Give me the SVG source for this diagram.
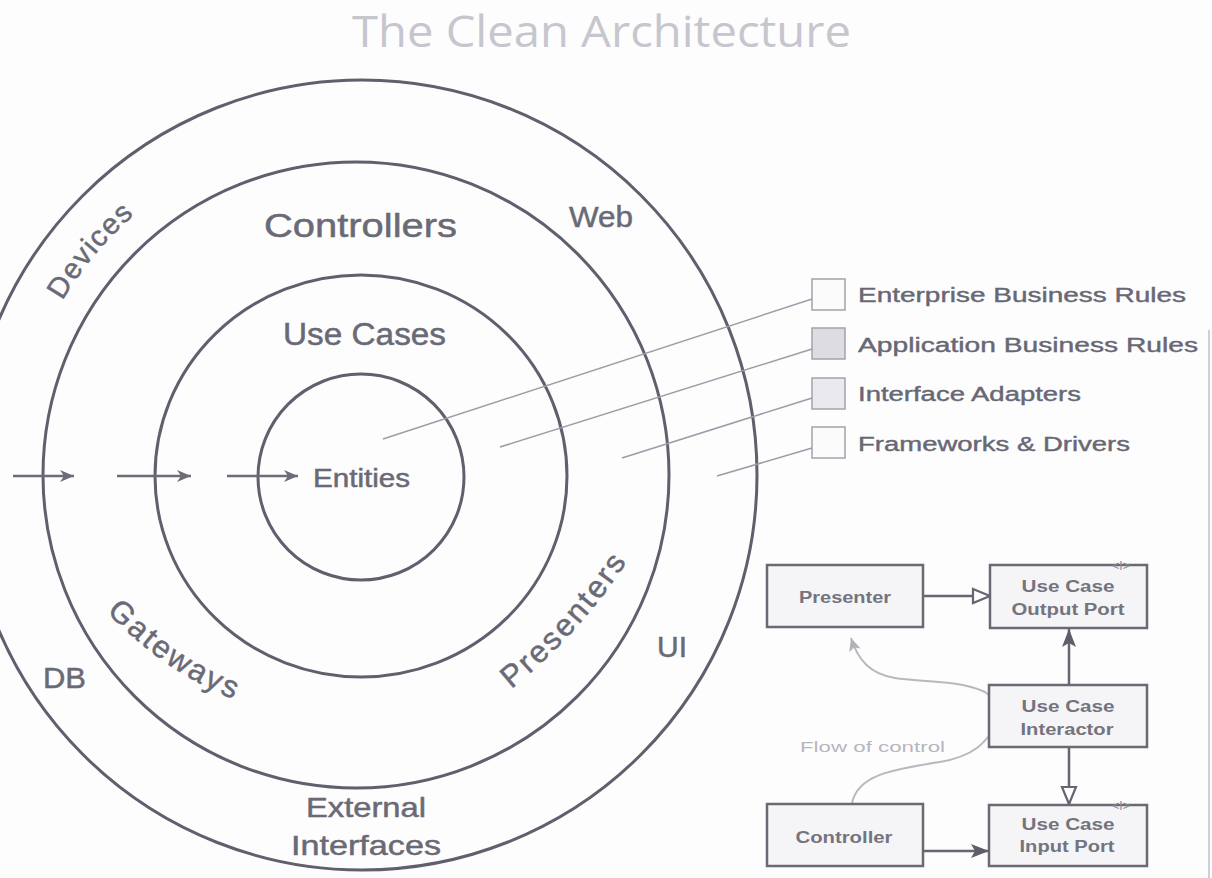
<svg xmlns="http://www.w3.org/2000/svg" width="1212" height="878" viewBox="0 0 1212 878">
<style>
.ring{fill:none;stroke:#5f5f6d;stroke-width:3}
.lbl{font-family:"Liberation Sans",Arial,sans-serif;fill:#6a6a76;stroke:#6a6a76;stroke-width:0.5}
.leg{font-family:"Liberation Sans",Arial,sans-serif;fill:#686874;stroke:#686874;stroke-width:0.4;font-size:20px}
.lead{fill:none;stroke:#9c9ca8;stroke-width:1.5}
.lbox{stroke:#a2a2ac;stroke-width:1.5}
.uml{fill:#f5f5f7;stroke:#6a6a76;stroke-width:2.5}
.umlt{font-family:"Liberation Sans",Arial,sans-serif;font-weight:bold;font-size:16px;fill:#74747e;text-anchor:middle}
.conn{fill:none;stroke:#666672;stroke-width:2.5}
.arr{fill:none;stroke:#6c6c78;stroke-width:2.5}
.mark{font-family:"Liberation Sans",Arial,sans-serif;font-size:12px;fill:#8a8a94;text-anchor:middle}
</style>
<defs>
<marker id="ah" markerUnits="userSpaceOnUse" markerWidth="16" markerHeight="14" refX="15" refY="7" orient="auto">
<path d="M1,1 L15,7 L1,13 L5,7 z" fill="#6c6c78"/>
</marker>
<marker id="hollow" markerUnits="userSpaceOnUse" markerWidth="22" markerHeight="18" refX="19" refY="9" orient="auto">
<path d="M2,2 L19,9 L2,16 z" fill="#ffffff" stroke="#666672" stroke-width="2.2"/>
</marker>
<marker id="filled" markerUnits="userSpaceOnUse" markerWidth="22" markerHeight="18" refX="19" refY="9" orient="auto">
<path d="M1,2 L19,9 L1,16 L5,9 z" fill="#5e5e6a"/>
</marker>
<marker id="flow" markerUnits="userSpaceOnUse" markerWidth="16" markerHeight="14" refX="14" refY="7" orient="auto">
<path d="M1,1 L14,7 L1,13 L4,7 z" fill="#b2b2bc"/>
</marker>
<path id="pDevices" d="M20.2 415.4 A343 343 0 0 1 240.7 152.7"/>
<path id="pGateways" d="M100 605 Q165.5 676 245 703"/>
<path id="pPresenters" d="M500 698 Q580 637 636 548"/>
</defs>
<rect x="0" y="0" width="1212" height="878" fill="#fdfdfd"/>
<line x1="1209" y1="330" x2="1209" y2="878" stroke="#cfcfd6" stroke-width="2"/>

<text x="352" y="47" font-family="'Open Sans','Liberation Sans',sans-serif" font-size="43" fill="#c6c6ce" textLength="499" lengthAdjust="spacingAndGlyphs">The Clean Architecture</text>

<g id="frameworks-drivers">
<circle class="ring" cx="362" cy="475" r="395"/>
<text class="lbl" font-size="29" letter-spacing="1.5"><textPath href="#pDevices" startOffset="50%" text-anchor="middle">Devices</textPath></text>
<text class="lbl" x="569" y="227" font-size="29" textLength="64" lengthAdjust="spacingAndGlyphs">Web</text>
<text class="lbl" x="657" y="657" font-size="30">UI</text>
<text class="lbl" x="43" y="688" font-size="29" textLength="43" lengthAdjust="spacingAndGlyphs">DB</text>
<text class="lbl" x="306" y="817" font-size="28" textLength="120" lengthAdjust="spacingAndGlyphs">External</text>
<text class="lbl" x="291" y="855" font-size="28" textLength="150" lengthAdjust="spacingAndGlyphs">Interfaces</text>
</g>

<g id="interface-adapters">
<circle class="ring" cx="356" cy="475" r="313"/>
<text class="lbl" x="264" y="237" font-size="34" textLength="193" lengthAdjust="spacingAndGlyphs">Controllers</text>
<text class="lbl" font-size="31" letter-spacing="2.5"><textPath href="#pGateways" startOffset="50%" text-anchor="middle">Gateways</textPath></text>
<text class="lbl" font-size="31" letter-spacing="2.5"><textPath href="#pPresenters" startOffset="50%" text-anchor="middle">Presenters</textPath></text>
</g>

<g id="use-cases">
<ellipse class="ring" cx="361" cy="476" rx="206" ry="201"/>
<text class="lbl" x="283" y="345" font-size="31" textLength="163" lengthAdjust="spacingAndGlyphs">Use Cases</text>
</g>

<g id="entities">
<circle class="ring" cx="361" cy="477" r="103"/>
<text class="lbl" x="313" y="487" font-size="25" stroke-width="0.2" textLength="97" lengthAdjust="spacingAndGlyphs">Entities</text>
</g>

<g id="legend">
<g id="legend-enterprise">
<rect class="lbox" x="812" y="279" width="33" height="31" fill="#fbfbfc"/>
<text class="leg" x="858" y="302" textLength="328" lengthAdjust="spacingAndGlyphs">Enterprise Business Rules</text>
</g>
<g id="legend-application">
<rect class="lbox" x="812" y="328" width="33" height="31" fill="#dcdce1"/>
<text class="leg" x="858" y="352" textLength="340" lengthAdjust="spacingAndGlyphs">Application Business Rules</text>
</g>
<g id="legend-adapters">
<rect class="lbox" x="812" y="378" width="33" height="31" fill="#eaeaee"/>
<text class="leg" x="858" y="401" textLength="223" lengthAdjust="spacingAndGlyphs">Interface Adapters</text>
</g>
<g id="legend-frameworks">
<rect class="lbox" x="812" y="427" width="33" height="31" fill="#fbfbfc"/>
<text class="leg" x="858" y="451" textLength="272" lengthAdjust="spacingAndGlyphs">Frameworks &amp; Drivers</text>
</g>
</g>

<g id="connectors">
<line class="arr" x1="13" y1="476" x2="74" y2="476" marker-end="url(#ah)"/>
<line class="arr" x1="117" y1="476" x2="191" y2="476" marker-end="url(#ah)"/>
<line class="arr" x1="227" y1="476" x2="298" y2="476" marker-end="url(#ah)"/>
<line class="lead" x1="383" y1="439" x2="812" y2="299"/>
<line class="lead" x1="500" y1="447" x2="812" y2="349"/>
<line class="lead" x1="622" y1="458" x2="812" y2="398"/>
<line class="lead" x1="717" y1="476" x2="812" y2="448"/>
<path d="M852 803 C858 775 890 770 940 762 C975 756 985 742 995 728 C1000 712 995 698 985 692 C960 680 920 682 895 678 C870 674 858 660 851 638" fill="none" stroke="#b8b8c0" stroke-width="2" marker-end="url(#flow)"/>
<line class="conn" x1="923" y1="596" x2="990" y2="596" marker-end="url(#hollow)"/>
<line class="conn" x1="1069" y1="685" x2="1069" y2="629" marker-end="url(#filled)"/>
<line class="conn" x1="1069" y1="747" x2="1069" y2="804" marker-end="url(#hollow)"/>
<line class="conn" x1="923" y1="851" x2="989" y2="851" marker-end="url(#filled)"/>
</g>

<text x="800" y="752" font-family="'Liberation Sans',Arial,sans-serif" font-size="15" fill="#b6b6be" textLength="145" lengthAdjust="spacingAndGlyphs">Flow of control</text>

<g id="presenter">
<rect class="uml" x="767" y="565" width="156" height="62"/>
<text class="umlt" x="845" y="603" textLength="92" lengthAdjust="spacingAndGlyphs">Presenter</text>
</g>
<g id="output-port">
<rect class="uml" x="990" y="565" width="157" height="63"/>
<text class="umlt" x="1068" y="592" textLength="93" lengthAdjust="spacingAndGlyphs">Use Case</text>
<text class="umlt" x="1068" y="615" textLength="113" lengthAdjust="spacingAndGlyphs">Output Port</text>
<text class="mark" x="1121" y="570">&lt;I&gt;</text>
</g>
<g id="interactor">
<rect class="uml" x="989" y="685" width="158" height="62"/>
<text class="umlt" x="1068" y="712" textLength="93" lengthAdjust="spacingAndGlyphs">Use Case</text>
<text class="umlt" x="1067" y="735" textLength="93" lengthAdjust="spacingAndGlyphs">Interactor</text>
</g>
<g id="controller">
<rect class="uml" x="767" y="804" width="156" height="62"/>
<text class="umlt" x="844" y="843" textLength="97" lengthAdjust="spacingAndGlyphs">Controller</text>
</g>
<g id="input-port">
<rect class="uml" x="989" y="805" width="158" height="61"/>
<text class="umlt" x="1068" y="830" textLength="93" lengthAdjust="spacingAndGlyphs">Use Case</text>
<text class="umlt" x="1067" y="852" textLength="95" lengthAdjust="spacingAndGlyphs">Input Port</text>
<text class="mark" x="1121" y="810">&lt;I&gt;</text>
</g>
</svg>
